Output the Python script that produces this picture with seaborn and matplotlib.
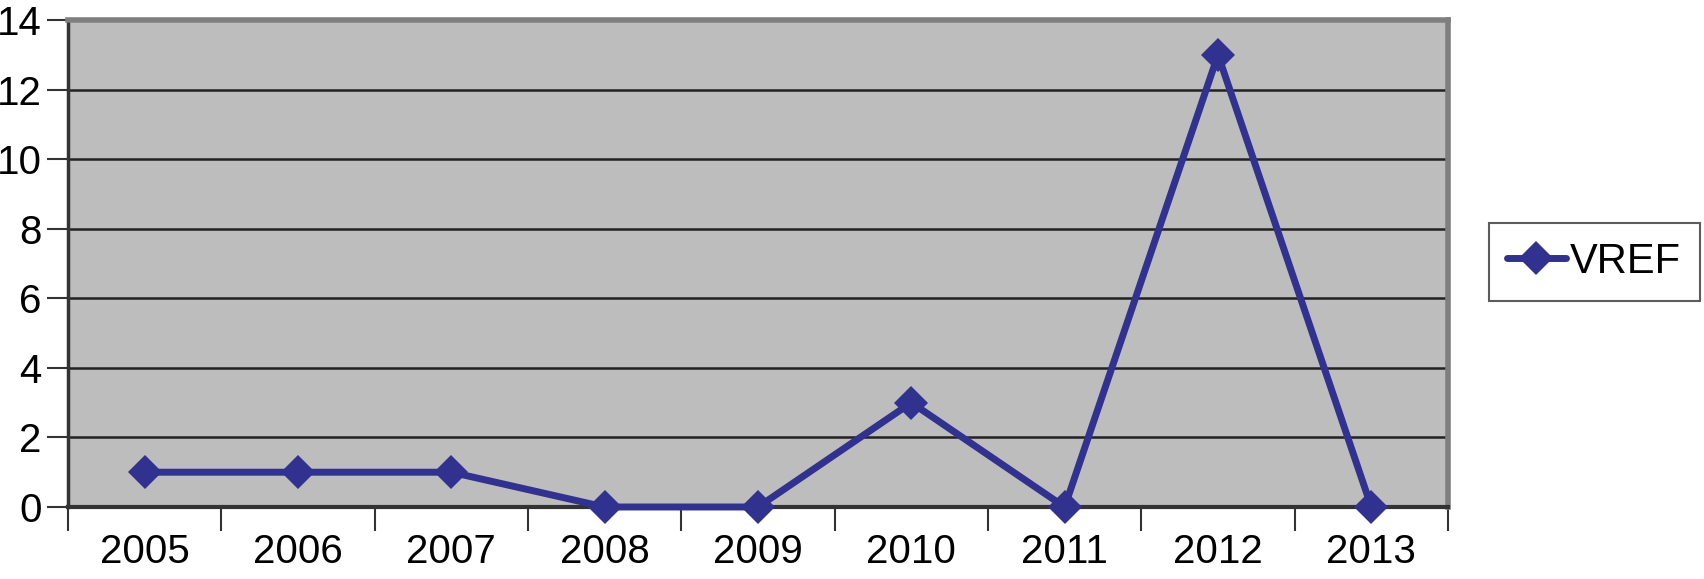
import matplotlib
matplotlib.use("Agg")
import matplotlib.pyplot as plt
import seaborn as sns
import pandas as pd
import numpy as np

years = ["2005", "2006", "2007", "2008", "2009", "2010", "2011", "2012", "2013"]
vref = [1, 1, 1, 0, 0, 3, 0, 13, 0]
series_name = "VREF"

sns.set_theme(style="white")
plt.rcParams['font.family'] = ['Liberation Sans', 'DejaVu Sans']
plt.rcParams['text.color'] = 'black'
plt.rcParams['xtick.color'] = 'black'
plt.rcParams['ytick.color'] = 'black'

df = pd.DataFrame({"idx": np.arange(len(years)), "value": vref, "series": series_name})

fig = plt.figure(figsize=(17.04, 5.79), dpi=100)
ax = fig.add_axes([68/1704, 1 - 507/579, (1448-68)/1704, (507-20)/579])
ax.set_facecolor("#BDBDBD")

line_color = "#31318F"
sns.lineplot(data=df, x="idx", y="value", hue="series", palette=[line_color],
             marker="D", markersize=17, linewidth=5, markeredgewidth=0,
             ax=ax, legend=False, zorder=5, clip_on=False)

ax.set_xlim(-0.5, len(years) - 0.5)
ax.set_ylim(0, 14)
ax.set_yticks(np.arange(0, 15, 2))
ax.set_yticklabels([str(v) for v in range(0, 15, 2)], fontsize=29)
ax.set_xticks(np.arange(len(years)))
ax.set_xticklabels(years, fontsize=29)
ax.set_xticks(np.arange(-0.5, len(years), 1.0), minor=True)
ax.tick_params(axis="x", which="major", bottom=True, length=0, pad=19, labelcolor="black")
ax.tick_params(axis="x", which="minor", bottom=True, length=17, width=1.5, color="#333333", direction="out")
ax.tick_params(axis="y", which="major", left=True, length=15, width=1.5, color="#333333",
               pad=4, labelcolor="black", direction="out")
ax.set_xlabel("")
ax.set_ylabel("")

ax.grid(False)
for yv in range(2, 14, 2):
    ax.axhline(yv, color="#222222", linewidth=1.8, zorder=1)

for side in ["top", "right"]:
    ax.spines[side].set_visible(True)
    ax.spines[side].set_color("#7F7F7F")
    ax.spines[side].set_linewidth(4)
ax.spines["left"].set_color("#333333")
ax.spines["left"].set_linewidth(2.5)
ax.spines["bottom"].set_color("#333333")
ax.spines["bottom"].set_linewidth(3)
for sp in ax.spines.values():
    sp.set_zorder(3)

from matplotlib.lines import Line2D
handle = Line2D([0], [0], color=line_color, linewidth=5, marker="D", markersize=17,
                markeredgewidth=0)
leg = fig.legend([handle], [series_name], loc="center",
                 bbox_to_anchor=(1594/1704, 1 - 262/579), fontsize=30,
                 frameon=True, fancybox=False, borderpad=0.45, handlelength=1.4,
                 handletextpad=0.1, borderaxespad=0)
leg.get_frame().set_edgecolor("#333333")
leg.get_frame().set_linewidth(1.5)

fig.savefig("out.png", dpi=100)
